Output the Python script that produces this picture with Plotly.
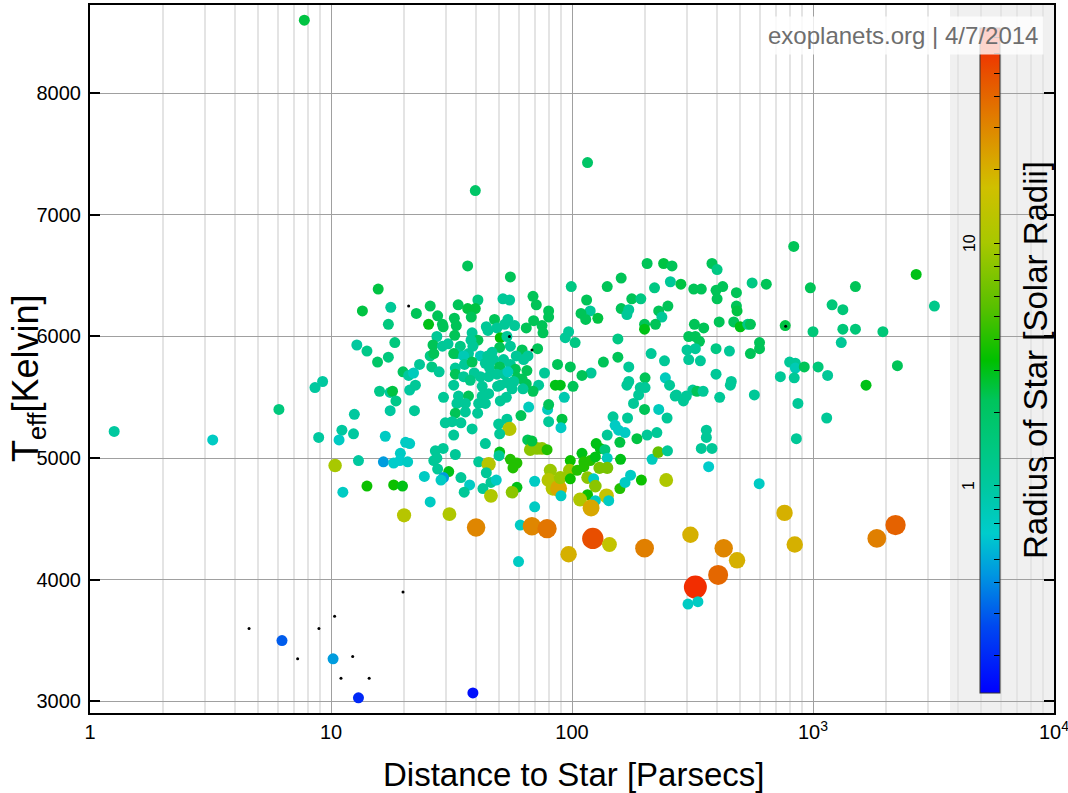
import numpy as np
import plotly.graph_objects as go

# Host star distance [pc], effective temperature [K] and stellar radius [R_sun]
dist_pc = [
    7.75, 39.7, 116, 1.26, 3.23, 6.08, 15.7, 13.5, 17.7, 17.3, 12.8, 14.1, 18.4, 15.6, 17.3, 19.9,
    21.0, 9.23, 8.58, 15.9, 17.6, 18.0, 18.6, 17.6, 21.2, 12.5, 8.89, 11.1, 10.8, 12.4, 16.8, 20.4,
    19.4, 10.4, 13.0, 16.5, 18.2, 19.3, 20.8, 11.2, 14.1, 18.2, 19.8, 20.1, 6.26, 10.2, 13.0, 38.8,
    36.9, 55.5, 68.9, 71.1, 25.8, 22.6, 33.7, 40.7, 51.7, 55.1, 36.9, 39.7, 38.2, 27.7, 25.4, 29.0,
    29.2, 32.5, 33.1, 47.7, 54.2, 52.5, 44.1, 44.8, 48.8, 57.8, 64.6, 69.3, 75.1, 75.8, 80.0, 80.0,
    27.5, 32.6, 38.5, 40.7, 38.1, 50.4, 53.7, 55.5, 50.1, 62.1, 72.0, 65.7, 26.5, 29.0, 30.6, 34.4,
    33.3, 38.8, 37.2, 32.3, 25.8, 26.7, 41.7, 35.5, 46.6, 44.7, 47.3, 52.0, 58.7, 63.0, 26.2, 23.3,
    22.0, 28.1, 32.8, 35.8, 38.5, 43.7, 45.5, 50.1, 55.5, 58.2, 65.0, 76.9, 32.8, 35.5, 39.3, 41.7,
    37.8, 45.1, 48.8, 52.4, 54.2, 59.1, 62.1, 57.3, 22.4, 32.3, 42.4, 50.4, 53.7, 64.6, 72.7, 68.9,
    62.6, 56.4, 49.1, 45.1, 42.4, 29.3, 33.8, 37.2, 53.4, 50.4, 33.3, 36.1, 41.0, 43.7, 66.1, 79.2,
    80.0, 22.2, 32.8, 36.1, 40.6, 61.4, 29.8, 31.8, 34.6, 38.5, 49.6, 53.7, 55.0, 80.0, 32.3, 50.1,
    65.5, 21.2, 43.7, 67.1, 71.6, 75.1, 78.8, 27.1, 29.2, 32.8, 50.1, 49.8, 26.7, 27.5, 41.0, 45.1,
    55.5, 59.1, 56.9, 81.3, 27.7, 30.8, 29.3, 28.6, 34.6, 44.1, 46.1, 48.5, 24.4, 37.6, 35.7, 42.7,
    59.1, 56.4, 46.1, 70.0, 80.0, 25.8, 70.0, 31.0, 205, 240, 260, 160, 140, 99.3, 220, 256,
    115, 177, 193, 160, 172, 169, 229, 250, 119, 109, 114, 128, 236, 222, 200, 200,
    96.8, 93.8, 103, 155, 135, 155, 213, 242, 87.1, 98.4, 120, 172, 110, 201, 244, 172,
    169, 254, 192, 201, 85.3, 89.4, 101, 189, 92.9, 268, 180, 200, 229, 248, 90.9, 90.0,
    148, 170, 151, 156, 166, 140, 158, 186, 205, 225, 68.2, 126, 131, 137, 110, 98.4,
    112, 119, 125, 140, 159, 215, 228, 249, 83.2, 88.0, 89.4, 97.7, 105, 112, 130, 140,
    98.4, 116, 123, 125, 116, 108, 139, 142, 125, 120, 158, 166, 175, 194, 246, 90.0,
    832, 381, 400, 283, 320, 344, 559, 640, 396, 422, 400, 481, 481, 484, 975, 322,
    352, 408, 469, 499, 536, 550, 767, 305, 325, 338, 325, 300, 305, 341, 396, 450,
    550, 600, 600, 800, 845, 845, 920, 732, 836, 396, 458, 454, 271, 290, 298, 317,
    330, 350, 410, 571, 866, 361, 361, 344, 381, 853, 369, 598, 762, 310, 2680, 1500,
    3190, 1200, 1330, 1000, 1330, 1500, 1950, 1310, 1050, 1150, 2240, 1660, 1140, 40.0, 61.0, 68.2,
    78.8, 96.8, 60.0, 122, 143, 200, 426, 484, 404, 325, 303, 333, 840, 1840, 2200,
]
teff_k = [
    8600, 7200, 7430, 5220, 5150, 5400, 6390, 6210, 6240, 6100, 5930, 5880, 5950, 5790, 5830, 5710,
    5680, 5630, 5580, 5550, 5540, 5550, 5470, 5390, 5560, 5360, 5170, 5230, 5150, 5200, 5180, 5130,
    5040, 4940, 4980, 4970, 4960, 4980, 4970, 4720, 4770, 4780, 4770, 4530, 3500, 3350, 3030, 3070,
    6580, 6490, 6330, 6260, 6250, 6190, 6260, 6300, 6310, 6300, 6230, 6230, 6160, 6170, 6100, 6100,
    6080, 6150, 6090, 6140, 6140, 6100, 6080, 6050, 6070, 6090, 6070, 6130, 6090, 6030, 6210, 6160,
    6000, 6010, 6030, 5970, 5970, 5990, 6000, 5920, 5910, 5890, 5900, 5840, 5930, 5920, 5940, 5920,
    5860, 5920, 5860, 5860, 5840, 5860, 5840, 5840, 5870, 5840, 5810, 5810, 5840, 5810, 5750, 5770,
    5700, 5710, 5740, 5770, 5790, 5780, 5740, 5750, 5770, 5730, 5720, 5700, 5690, 5670, 5700, 5670,
    5640, 5670, 5690, 5690, 5710, 5660, 5650, 5630, 5600, 5600, 5590, 5600, 5620, 5610, 5600, 5550,
    5570, 5570, 5590, 5530, 5510, 5500, 5510, 5510, 5500, 5470, 5450, 5450, 5450, 5450, 5420, 5400,
    5440, 5390, 5370, 5380, 5370, 5350, 5290, 5300, 5290, 5240, 5280, 5320, 5240, 5300, 5190, 5200,
    5150, 5120, 5120, 5070, 5080, 5080, 5070, 5060, 5080, 5030, 5050, 5020, 4980, 5000, 4970, 4950,
    4990, 4960, 4920, 4900, 4910, 4890, 4840, 4820, 4840, 4880, 4800, 4820, 4850, 4780, 4720, 4750,
    4760, 4720, 4690, 4810, 4820, 4640, 4600, 4540, 6600, 6600, 6580, 6480, 6410, 6410, 6400, 6450,
    6300, 6310, 6310, 6230, 6220, 6180, 6210, 6250, 6210, 6190, 6140, 6150, 6160, 6100, 6100, 6060,
    6040, 5990, 5950, 5980, 5790, 5830, 5860, 5800, 5770, 5750, 5700, 5750, 5680, 5660, 5660, 5630,
    5600, 5600, 5580, 5580, 5600, 5600, 5590, 5520, 5500, 5510, 5450, 5400, 5400, 5330, 5320, 5250,
    5340, 5330, 5270, 5230, 5210, 5190, 5130, 5160, 5190, 5210, 5140, 5120, 5080, 5070, 5040, 4980,
    4970, 4980, 5010, 5000, 4990, 4990, 5050, 5060, 4750, 4750, 4840, 4900, 4900, 4930, 4920, 4920,
    4830, 4840, 4830, 4770, 4700, 4660, 4690, 4650, 4650, 4590, 4750, 4800, 4860, 4820, 4820, 4690,
    6740, 6600, 6550, 6430, 6390, 6390, 6440, 6430, 6380, 6410, 6310, 6360, 6250, 6210, 6400, 6100,
    6070, 6120, 6120, 6080, 6100, 6100, 6090, 6000, 6000, 5960, 5900, 5890, 5810, 5800, 5900, 5880,
    5860, 5950, 5900, 5790, 5780, 5740, 5750, 5670, 5660, 5690, 5630, 5600, 5520, 5470, 5510, 5560,
    5550, 5550, 5500, 5520, 5450, 5230, 5170, 5080, 5080, 5160, 4930, 4790, 4550, 4370, 6510, 6410,
    6250, 6260, 6220, 6040, 6060, 6060, 6040, 5950, 5750, 5680, 5760, 5600, 5330, 4430, 4450, 4440,
    4420, 4210, 4150, 4340, 4290, 4260, 4260, 4160, 4040, 3940, 3800, 3820, 4290, 4340, 4450,
]
radius_rsun = [
    2.5, 2.0, 2.0, 1.0, 0.7, 1.5, 2.5, 2.5, 1.1, 1.5, 1.0, 1.3, 1.5, 2.0, 1.5, 2.2,
    1.0, 1.0, 1.0, 1.3, 1.0, 2.5, 1.3, 1.0, 1.0, 1.0, 1.0, 1.0, 0.7, 1.0, 0.7, 0.7,
    0.7, 10, 1.0, 0.45, 0.65, 0.65, 0.7, 0.7, 3.5, 3.5, 3.0, 12, 0.3, 0.45, 0.2, 0.16,
    2.3, 2.3, 2.3, 2.3, 2.3, 2.3, 2.3, 1.5, 1.1, 1.1, 2.5, 2.5, 2.3, 2.3, 3.0, 2.3,
    2.3, 2.3, 2.3, 2.3, 1.1, 1.1, 1.1, 1.1, 1.1, 1.1, 2.3, 2.3, 2.3, 2.3, 2.3, 2.3,
    1.1, 2.3, 1.1, 2.3, 1.1, 3.2, 1.1, 1.1, 2.3, 2.3, 2.3, 1.1, 2.3, 1.1, 1.1, 1.4,
    1.1, 1.1, 1.1, 2.3, 1.4, 2.3, 0.8, 0.8, 1.1, 1.1, 1.1, 1.1, 1.1, 1.1, 1.4, 1.1,
    0.75, 1.1, 1.1, 1.1, 2.3, 1.1, 1.1, 2.3, 1.1, 2.3, 2.3, 1.1, 2.3, 1.1, 1.1, 1.1,
    1.4, 1.1, 1.1, 1.1, 0.75, 2.3, 2.3, 1.1, 1.1, 1.1, 1.1, 1.1, 1.1, 2.3, 1.1, 2.3,
    1.1, 1.1, 1.1, 1.1, 1.1, 1.1, 1.1, 2.3, 1.1, 1.1, 1.1, 1.1, 1.1, 1.1, 0.75, 0.75,
    2.3, 1.1, 2.3, 1.1, 1.1, 2.3, 1.1, 1.1, 1.1, 1.1, 1.1, 1.1, 12, 1.1, 1.1, 1.1,
    2.3, 0.7, 1.1, 8, 8, 8, 4, 1.1, 1.1, 1.1, 3.0, 1.1, 1.1, 1.1, 1.1, 12,
    4, 4, 4, 9, 1.1, 3.0, 0.45, 0.7, 1.1, 1.1, 1.1, 0.7, 0.7, 0.7, 1.1, 1.1,
    3.0, 8, 11, 0.7, 12, 0.7, 0.7, 11, 2.3, 2.5, 2.3, 2.3, 2.3, 1.4, 1.4, 1.1,
    2.3, 2.3, 1.4, 2.3, 1.1, 1.1, 2.3, 2.3, 1.1, 2.3, 2.3, 2.5, 1.1, 2.3, 2.3, 3.0,
    1.1, 1.1, 1.4, 1.4, 2.3, 2.3, 1.1, 1.1, 2.3, 2.3, 1.1, 1.1, 2.3, 2.3, 0.75, 1.1,
    1.1, 1.1, 1.1, 1.1, 3.0, 3.0, 2.3, 1.1, 0.85, 1.1, 1.1, 2.3, 0.75, 1.1, 2.5, 0.7,
    1.1, 1.1, 0.7, 0.7, 0.7, 1.1, 2.5, 2.5, 1.1, 1.1, 2.5, 3.0, 3.0, 1.6, 3.0, 3.5,
    4, 4, 3.0, 0.75, 3.0, 0.75, 6, 1.1, 12, 22, 9, 9, 4, 4, 7, 7,
    3.5, 8, 0.7, 8, 3.5, 11, 14, 0.7, 0.7, 22, 4, 0.7, 0.7, 3.5, 11, 0.7,
    2.3, 2.3, 1.4, 2.5, 2.3, 2.3, 1.4, 2.3, 2.3, 2.3, 2.3, 2.3, 2.3, 2.5, 2.3, 2.3,
    2.3, 2.3, 2.3, 3.0, 1.3, 2.3, 2.5, 2.3, 2.3, 2.3, 1.1, 1.1, 1.1, 1.1, 1.4, 1.1,
    2.3, 2.3, 2.3, 1.1, 1.1, 0.8, 2.3, 1.1, 1.1, 1.1, 1.1, 1.1, 1.1, 1.1, 1.1, 1.1,
    2.3, 1.1, 1.1, 1.1, 1.1, 1.1, 1.1, 1.1, 1.1, 1.1, 0.65, 0.7, 20, 20, 3.0, 2.3,
    1.3, 1.6, 1.6, 1.6, 1.6, 1.6, 1.6, 1.1, 1.6, 1.1, 2.3, 3.0, 1.1, 30, 0.7, 30,
    35, 20, 0.7, 50, 14, 32, 30, 20, 40, 65, 0.7, 0.7, 20, 32, 42,
]

# Stars without a measured radius
dist_noradius_pc = [4.57, 8.91, 10.35, 19.9, 7.27, 12.3, 11.0, 14.4, 21.0, 55.0, 68.2, 770]
teff_noradius_k = [3600, 3600, 3700, 3900, 3350, 3370, 3190, 3190, 6250, 6000, 5890, 6085]

x_tickvals = [1, 10, 100, 1000, 10000]
x_ticktext = ["1", "10", "100", "10<sup>3</sup>", "10<sup>4</sup>"]
y_tickvals = [3000, 4000, 5000, 6000, 7000, 8000]
cb_labels = [1, 10]

# colour axis (log10 of radius)
CB_MIN, CB_MAX = -0.852, 1.885
rainbow = [
    [0.00, "#0000ff"], [0.10, "#0048f0"], [0.18, "#0098e0"], [0.24, "#00cccc"],
    [0.31, "#00c8a0"], [0.37, "#00c880"], [0.44, "#00c45c"], [0.50, "#00c000"],
    [0.58, "#58c000"], [0.677, "#a8c800"], [0.76, "#d0c000"], [0.80, "#d8a800"],
    [0.86, "#e08000"], [0.93, "#e85000"], [1.00, "#f81800"],
]

r = np.array(radius_rsun, dtype=float)
log_r = np.log10(r)
sizes = np.maximum(11, 13.5 * (r / 10) ** 0.285)

# plot-area geometry in pixels (used for the colour bar and labels)
FIG_W, FIG_H = 1068, 793
ML, MR, MT, MB = 90, 14, 5, 80
PW, PH = FIG_W - ML - MR, FIG_H - MT - MB


def px_x(px):
    return (px - ML) / PW


def px_y(py):
    return (FIG_H - MB - py) / PH


cb_y0 = px_y(693)
cb_len = px_y(28) - cb_y0

cb_ticks = []
for dec in (0.1, 1, 10):
    for k in range(1, 10):
        v = dec * k
        if CB_MIN <= np.log10(v) <= CB_MAX:
            cb_ticks.append(float(np.log10(v)))

fig = go.Figure()
fig.add_trace(go.Scatter(
    x=dist_pc, y=teff_k, mode="markers",
    marker=dict(
        size=sizes, color=log_r, cmin=CB_MIN, cmax=CB_MAX, colorscale=rainbow,
        line=dict(width=0), opacity=1,
        colorbar=dict(
            x=px_x(980), xanchor="left", y=cb_y0, yanchor="bottom",
            len=cb_len, lenmode="fraction", thickness=20, xpad=0, ypad=0,
            outlinewidth=1, outlinecolor="#333333",
            tickmode="array", tickvals=cb_ticks,
            ticks="inside", ticklen=6, tickwidth=1, tickcolor="#000000",
            showticklabels=False, bgcolor="rgba(0,0,0,0)",
        ),
    ),
    hoverinfo="skip", showlegend=False,
))
fig.add_trace(go.Scatter(
    x=dist_noradius_pc, y=teff_noradius_k, mode="markers",
    marker=dict(size=3, color="#000000"),
    hoverinfo="skip", showlegend=False,
))

minor_x = [k * 10 ** d for d in range(0, 4) for k in range(2, 10)]

fig.update_xaxes(
    type="log", range=[0, 4], automargin=False,
    tickmode="array", tickvals=x_tickvals, ticktext=x_ticktext,
    tickfont=dict(size=20, color="#000000"),
    showgrid=True, gridcolor="#a0a0a0", gridwidth=1,
    minor=dict(tickmode="array", tickvals=minor_x, showgrid=True,
               gridcolor="#e4e4e4", gridwidth=1.5, ticks=""),
    showline=True, linecolor="#000000", linewidth=2, mirror=True,
    ticks="", zeroline=False, ticklabelstandoff=0, ticklabeloverflow="allow",
)
fig.update_yaxes(
    range=[2905, 8725], automargin=False,
    tickmode="array", tickvals=y_tickvals,
    tickfont=dict(size=20, color="#000000"),
    showgrid=True, gridcolor="#a0a0a0", gridwidth=1,
    showline=True, linecolor="#000000", linewidth=2, mirror="ticks",
    ticks="inside", ticklen=10, tickwidth=2, tickcolor="#000000",
    zeroline=False, ticklabelstandoff=3,
)

annotations = [
    dict(text="Distance to Star [Parsecs]", x=px_x(573), y=px_y(775), xref="paper", yref="paper",
         xanchor="center", yanchor="middle", showarrow=False,
         font=dict(size=33, color="#000000")),
    dict(text="T<sub>eff</sub>[Kelvin]", x=px_x(28), y=px_y(378), xref="paper", yref="paper",
         xanchor="center", yanchor="middle", textangle=-90, showarrow=False,
         font=dict(size=36, color="#000000")),
    dict(text="Radius of Star [Solar Radii]", x=px_x(1035), y=px_y(360), xref="paper", yref="paper",
         xanchor="center", yanchor="middle", textangle=-90, showarrow=False,
         font=dict(size=33, color="#000000")),
    dict(text="exoplanets.org | 4/7/2014", x=px_x(1044), y=px_y(16), xref="paper", yref="paper",
         xanchor="right", yanchor="top", showarrow=False,
         bgcolor="rgba(255,255,255,0.8)", borderpad=5,
         font=dict(size=24, color="#6e6e6e")),
]
for v in cb_labels:
    frac = (np.log10(v) - CB_MIN) / (CB_MAX - CB_MIN)
    annotations.append(dict(
        text=str(v), x=px_x(969), y=cb_y0 + frac * cb_len, xref="paper", yref="paper",
        xanchor="center", yanchor="middle", textangle=-90, showarrow=False,
        font=dict(size=16, color="#000000"),
    ))

fig.update_layout(
    width=FIG_W, height=FIG_H,
    margin=dict(l=ML, r=MR, t=MT, b=MB, autoexpand=False),
    paper_bgcolor="#ffffff", plot_bgcolor="#ffffff",
    font=dict(family="Liberation Sans, Arial, sans-serif"),
    shapes=[dict(type="rect", xref="paper", yref="paper", x0=px_x(950), x1=1, y0=0, y1=1,
                 fillcolor="#f0f0f0", line=dict(width=0), layer="below")],
    annotations=annotations,
)

fig.write_html("out.html")
